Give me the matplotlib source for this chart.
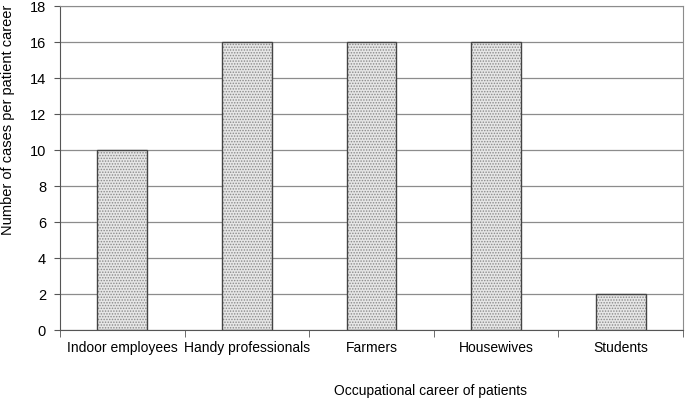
import matplotlib.pyplot as plt
import numpy as np

plt.rcParams['font.family'] = 'Liberation Sans'
plt.rcParams['hatch.linewidth'] = 0.7

categories = ['Indoor employees', 'Handy professionals', 'Farmers', 'Housewives', 'Students']
cases = [10, 16, 16, 16, 2]

fig = plt.figure(figsize=(6.85, 4.01), dpi=100)
ax = fig.add_axes([60 / 685, 1 - 330 / 401, 623 / 685, 324 / 401])

x = np.arange(len(categories))
ax.bar(x, cases, width=0.4, color='#e6e6e6', edgecolor='#8a8a8a', hatch='......', linewidth=0, zorder=2)
ax.bar(x, cases, width=0.4, fill=False, edgecolor='#444444', linewidth=1.0, zorder=3)

ax.set_xlim(-0.5, len(categories) - 0.5)
ax.set_ylim(0, 18)
ax.set_yticks(range(0, 19, 2))
ax.set_xticks(x)
ax.set_xticklabels(categories, fontsize=10)
ax.set_xticks(np.arange(-0.5, len(categories), 1), minor=True)
ax.tick_params(axis='x', which='major', length=0, pad=8)
ax.tick_params(axis='x', which='minor', length=5, color='#555555', direction='out')
ax.tick_params(axis='y', length=4, color='#555555', labelsize=10.5, pad=6)

ax.yaxis.grid(True, color='#8c8c8c', linewidth=0.9, zorder=0)
ax.set_axisbelow(True)
for side in ['top', 'right']:
    ax.spines[side].set_color('#8c8c8c')
for side in ['left', 'bottom']:
    ax.spines[side].set_color('#555555')

fig.text(8 / 685, 1 - 120 / 401, 'Number of cases per patient career', fontsize=10.5,
         rotation=90, ha='center', va='center')
fig.text(430 / 685, 1 - 391 / 401, 'Occupational career of patients', fontsize=10, ha='center', va='center')

fig.savefig('out.png', dpi=100)
